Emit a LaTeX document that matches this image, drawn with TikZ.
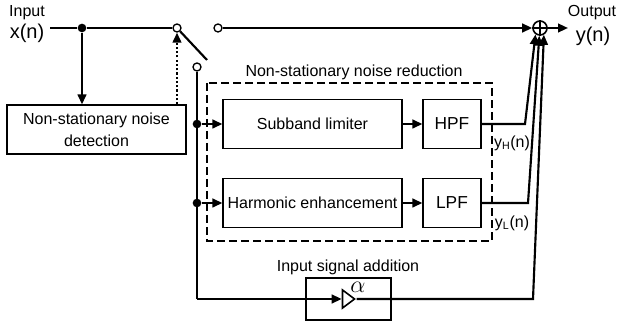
\documentclass[tikz,border=0pt]{standalone}
\usepackage{fontspec}
\setmainfont{Liberation Sans}
\usetikzlibrary{arrows.meta, positioning, shapes.geometric}

\begin{document}
\begin{tikzpicture}[x=0.75pt, y=-0.75pt,
  blk/.style = {draw, line width=0.9pt, font=\fontsize{12}{16.5}\selectfont, align=center, inner sep=0pt},
  sig/.style = {line width=1.6pt},
  arr/.style = {sig, -{Triangle[length=7.5pt,width=6.5pt]}},
  dot/.style = {circle, fill, inner sep=0pt, minimum size=6.5pt},
  term/.style = {circle, draw, fill=white, line width=1pt, inner sep=0pt, minimum size=6pt},
  lbl/.style = {font=\fontsize{12}{14}\selectfont, inner sep=0pt},
  sgl/.style = {font=\fontsize{15}{17}\selectfont, inner sep=0pt}
]
  \useasboundingbox (0,0) rectangle (617,323);

  % input and detection
  \node[lbl] (lin) at (27,13) {Input};
  \node[sgl] (xn) at (27,33) {x(n)};
  \coordinate (xs) at (50,28);
  \node[dot] (jd) at (82,28) {};
  \node[blk, minimum width=134.25pt, minimum height=36.75pt] (det) at (96.5,129.5) {Non-stationary noise\\detection};

  % switch
  \node[term] (sw) at (177,28) {};
  \node[term] (swa) at (218,28) {};
  \node[term] (swb) at (197,67) {};
  \coordinate (swe) at (207,60);
  \draw[sig] (xs) -- (jd) -- (sw);
  \draw[arr] (jd) -- (jd |- det.north);
  \draw[arr, dash pattern=on 1.6pt off 1.6pt] (det.north -| sw) -- (sw);
  \draw[sig] (sw) -- (swe);

  % noise reduction
  \draw[line width=0.9pt, dash pattern=on 6pt off 3pt] (207,83) rectangle (492,241);
  \node[lbl] (nrl) at (354,72) {Non-stationary noise reduction};
  \foreach \y/\nm/\txt/\flt/\ftxt in {124/sbl/Subband limiter/hpf/HPF, 203/har/Harmonic enhancement/lpf/LPF}{
    \node[dot] (j\nm) at (197,\y) {};
    \node[blk, minimum width=134.25pt, minimum height=36.75pt] (\nm) at (312.5,\y) {\txt};
    \node[blk, font=\fontsize{13}{15}\selectfont, minimum width=43.5pt, minimum height=36.75pt] (\flt) at (452,\y) {\ftxt};
    \draw[arr] (j\nm) -- (\nm);
    \draw[arr] (\nm) -- (\flt);
  }

  % summation
  \node[circle, draw, fill=white, line width=1.2pt, minimum size=10.5pt, inner sep=0pt] (sum) at (540,28) {};
  \draw[line width=1.2pt] (sum.north) -- (sum.south) (sum.west) -- (sum.east);
  \node[lbl] (lout) at (592,13) {Output};
  \node[sgl] (yn) at (593,36) {y(n)};
  \coordinate (ye) at (568,28);
  \draw[arr] (swa) -- (sum);
  \draw[arr] (sum) -- (ye);

  % branch outputs
  \coordinate (ch) at (525,124);
  \coordinate (cl) at (528,203);
  \coordinate (cb) at (533,299);
  \coordinate (cg) at (197,299);
  \draw[arr] (hpf) -- (ch) -- (sum.235);
  \draw[arr] (lpf) -- (cl) -- (sum.265);
  \node[lbl] (yh) at (512,143) {y\textsubscript{H}(n)};
  \node[lbl] (yl) at (512,223) {y\textsubscript{L}(n)};

  % input signal addition
  \node[lbl] (adl) at (348,267) {Input signal addition};
  \node[blk, minimum width=63.75pt, minimum height=31.5pt] (gbox) at (348.5,299) {};
  \node[isosceles triangle, isosceles triangle stretches, draw, fill=white, line width=1.2pt,
        minimum height=9pt, minimum width=13.5pt, inner sep=0pt] (amp) at (347,299) {};
  \draw[sig] (swb) -- (cg);
  \draw[arr] (cg) -- (amp.west);
  \draw[arr] (amp.east) -- (cb) -- (sum.300);
  \node[lbl] (alf) at (358,287) {\scalebox{1.5}{$\alpha$}};
\end{tikzpicture}
\end{document}
